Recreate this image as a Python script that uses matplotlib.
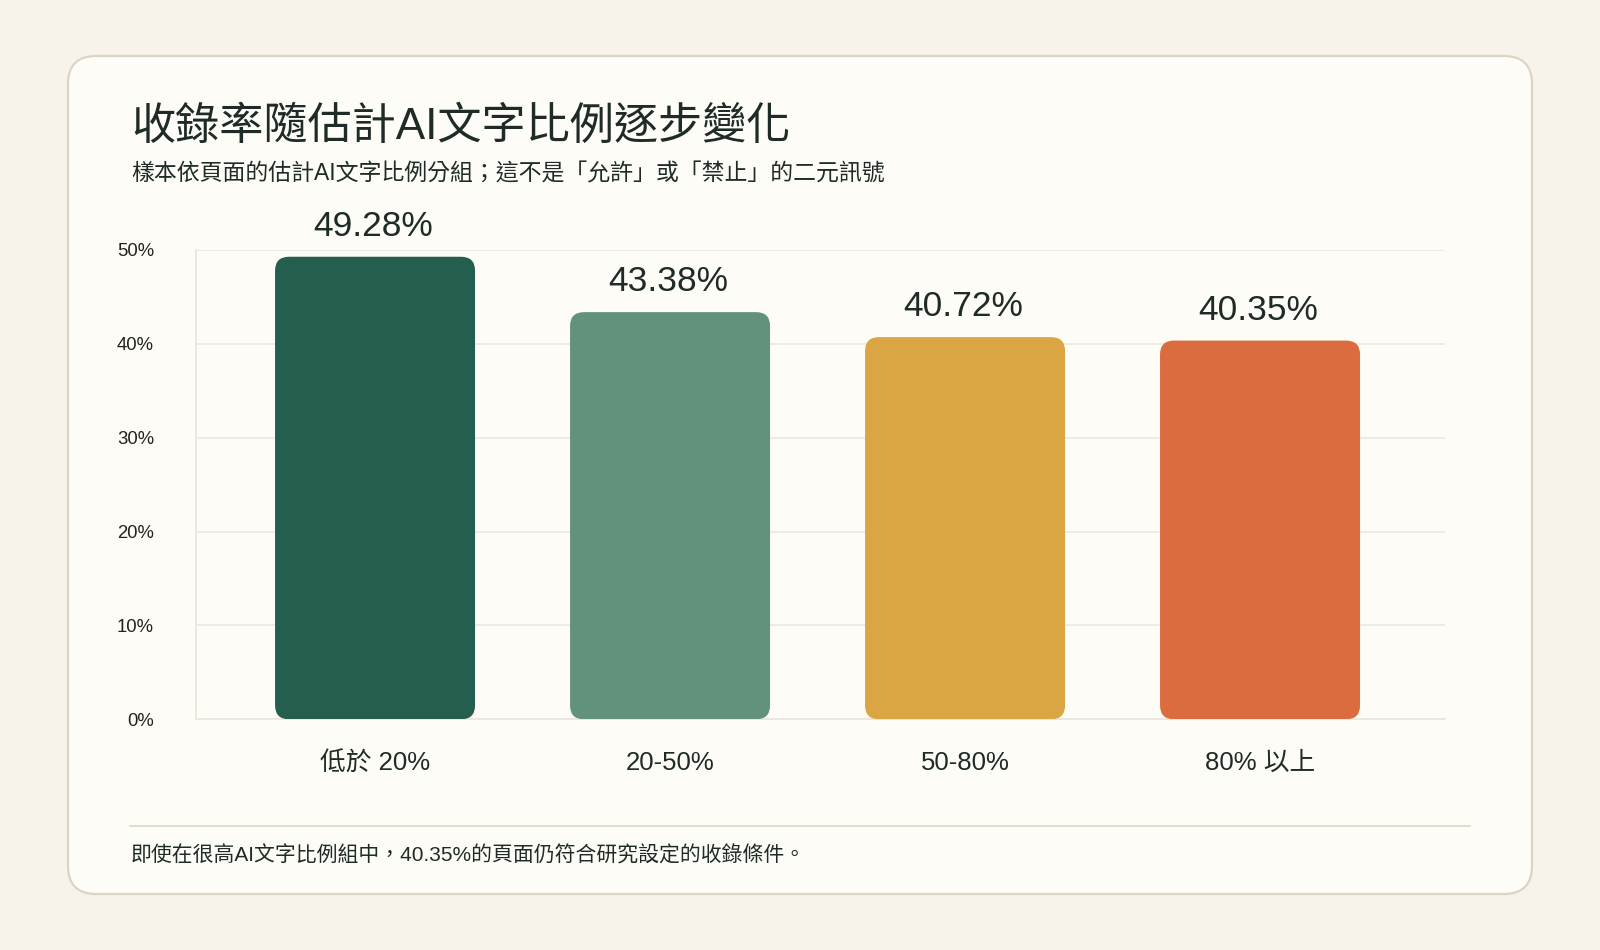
import matplotlib
matplotlib.use("Agg")
import matplotlib.pyplot as plt
from matplotlib.patches import FancyBboxPatch
from matplotlib.lines import Line2D
from matplotlib.ticker import FuncFormatter, MultipleLocator

# ---- data ----
categories = ["低於 20%", "20-50%", "50-80%", "80% 以上"]
rates = [49.28, 43.38, 40.72, 40.35]
bar_colors = ["#245E4E", "#62927B", "#DBA543", "#DB6C3F"]
title = "收錄率隨估計AI文字比例逐步變化"
subtitle = "樣本依頁面的估計AI文字比例分組；這不是「允許」或「禁止」的二元訊號"
footnote = "即使在很高AI文字比例組中，40.35%的頁面仍符合研究設定的收錄條件。"

FAM = ["Liberation Sans", "Noto Sans CJK TC", "DejaVu Sans"]
plt.rcParams["font.family"] = FAM
TXT = "#1E2B26"
BG = "#F7F3EA"
CARD = "#FDFCF7"
GRID = "#ECE6DD"

W, H, DPI = 16, 9.5, 100
fig = plt.figure(figsize=(W, H), dpi=DPI, facecolor=BG)

# card
card = FancyBboxPatch((0.68, 0.56), 14.64, 8.38,
                      boxstyle="round,pad=0,rounding_size=0.28",
                      transform=fig.dpi_scale_trans, facecolor=CARD,
                      edgecolor="#DCD5C6", linewidth=1.6, zorder=-5)
fig.patches.append(card)

# texts
fig.text(131 / 1600, 1 - 127 / 950, title, fontsize=31.8, color=TXT,
         ha="left", va="center", family=FAM)
fig.text(131 / 1600, 1 - 174 / 950, subtitle, fontsize=16.5, color=TXT,
         ha="left", va="center", family=FAM)
fig.text(131 / 1600, 1 - 855 / 950, footnote, fontsize=15, color=TXT,
         ha="left", va="center", family=FAM)
fig.lines.append(Line2D([130 / 1600, 1470 / 1600], [1 - 826 / 950] * 2,
                        transform=fig.transFigure, color="#DDD5C8", lw=1.2,
                        zorder=-4))

# axes
left, right, top, bottom = 195.7, 1445, 250, 719.3
ax = fig.add_axes([left / 1600, 1 - bottom / 950, (right - left) / 1600,
                   (bottom - top) / 950])
ax.set_facecolor("none")
ax.set_zorder(2)
x = list(range(len(categories)))
xmin, xmax = -0.608, 3.627
ymin, ymax = 0, 50
ax.set_xlim(xmin, xmax)
ax.set_ylim(ymin, ymax)

bars = ax.bar(x, rates, width=0.678, color=bar_colors, zorder=3)

# rounded corners
ax_w_px = right - left
ax_h_px = bottom - top
xu_per_px = (xmax - xmin) / ax_w_px
yu_per_px = (ymax - ymin) / ax_h_px
aspect = yu_per_px / xu_per_px
radius_px = 14
for b, c in zip(bars, bar_colors):
    bx, by = b.get_x(), b.get_y()
    bw, bh = b.get_width(), b.get_height()
    b.set_visible(False)
    p = FancyBboxPatch((bx, by), bw, bh,
                       boxstyle=f"round,pad=0,rounding_size={radius_px * xu_per_px}",
                       mutation_aspect=aspect, facecolor=c, edgecolor="none",
                       zorder=3)
    ax.add_patch(p)

for xi, v in zip(x, rates):
    ax.annotate(f"{v:.2f}%", (xi, v), xytext=(-1.5, 10), textcoords="offset points",
                ha="center", va="bottom", fontsize=25.5, color=TXT,
                family=FAM, annotation_clip=False)

ax.yaxis.set_major_locator(MultipleLocator(10))
ax.yaxis.set_major_formatter(FuncFormatter(lambda v, p: f"{v:.0f}%"))
ax.grid(axis="y", color=GRID, lw=1.1, zorder=0)
ax.grid(axis="x", visible=False)
ax.set_axisbelow(True)
ax.set_xticks(x)
ax.set_xticklabels(categories)
ax.tick_params(axis="y", length=0, pad=30, labelsize=13.3, labelcolor="#222222")
ax.tick_params(axis="x", length=0, pad=23, labelsize=18.5, labelcolor=TXT)
for s in ["top", "right"]:
    ax.spines[s].set_visible(False)
for s in ["left", "bottom"]:
    ax.spines[s].set_color(GRID)
    ax.spines[s].set_linewidth(1.3)

fig.savefig("out.png", dpi=DPI, facecolor=BG)
